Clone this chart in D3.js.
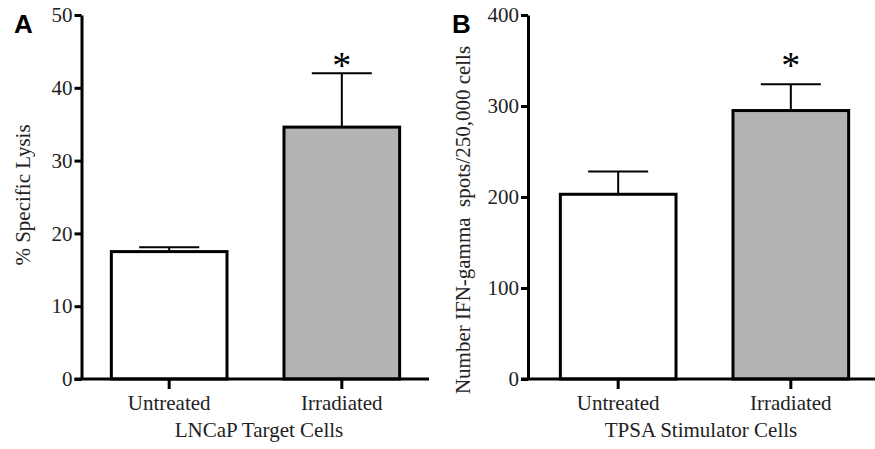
<!DOCTYPE html>
<html>
<head>
<meta charset="utf-8">
<script src="https://cdn.jsdelivr.net/npm/d3@7"></script>
<style>
  body { margin: 0; background: #fff; }
  text { font-family: "Liberation Serif", "Times New Roman", serif; fill: #222; }
</style>
</head>
<body>
<svg id="fig" width="875" height="449"></svg>
<script>
// values
var categories = ["Untreated", "Irradiated"];

var lysisMean = [17.5, 34.6],
    lysisErr = [0.6, 7.4],
    lysisTicks = [0, 10, 20, 30, 40, 50];

var spotsMean = [203, 295],
    spotsErr = [25, 29],
    spotsTicks = [0, 100, 200, 300, 400];

var stars = ["", "*"];

var svg = d3.select("#fig");

function drawPanel(p) {
    var g = svg.append("g");

    var y = d3.scaleLinear().domain([0, p.max]).range([379, 15]);
    var x = d3.scaleBand()
        .domain(categories)
        .range([p.left, p.left + 347])
        .paddingInner(0.33)
        .paddingOuter(0.17);

    var rows = categories.map(function (c, i) {
        return { name: c, mean: p.mean[i], err: p.err[i], star: stars[i], fill: i === 0 ? "#fff" : "#b3b3b3" };
    });

    // bars
    g.selectAll(".bar")
        .data(rows)
        .enter().append("rect")
        .attr("class", "bar")
        .attr("x", function (d) { return x(d.name); })
        .attr("y", function (d) { return y(d.mean); })
        .attr("width", x.bandwidth())
        .attr("height", function (d) { return y(0) - y(d.mean); })
        .attr("fill", function (d) { return d.fill; })
        .attr("stroke", "#000")
        .attr("stroke-width", 3);

    // error bars, upper side only
    var eb = g.selectAll(".err")
        .data(rows)
        .enter().append("g")
        .attr("class", "err")
        .attr("stroke", "#000")
        .attr("stroke-width", 2);

    eb.append("line")
        .attr("x1", function (d) { return x(d.name) + x.bandwidth() / 2; })
        .attr("x2", function (d) { return x(d.name) + x.bandwidth() / 2; })
        .attr("y1", function (d) { return y(d.mean); })
        .attr("y2", function (d) { return y(d.mean + d.err); });

    eb.append("line")
        .attr("x1", function (d) { return x(d.name) + x.bandwidth() / 2 - 30; })
        .attr("x2", function (d) { return x(d.name) + x.bandwidth() / 2 + 30; })
        .attr("y1", function (d) { return y(d.mean + d.err); })
        .attr("y2", function (d) { return y(d.mean + d.err); });

    g.selectAll(".star")
        .data(rows)
        .enter().append("text")
        .attr("class", "star")
        .attr("x", function (d) { return x(d.name) + x.bandwidth() / 2; })
        .attr("y", 78)
        .attr("text-anchor", "middle")
        .style("font-size", "38px")
        .style("fill", "#000")
        .text(function (d) { return d.star; });

    // y axis
    var ya = g.append("g")
        .attr("transform", "translate(" + p.axisX + ",0)")
        .call(d3.axisLeft(y).tickValues(p.ticks).tickSize(7).tickSizeOuter(0).tickPadding(2))
        .attr("font-family", null)
        .attr("font-size", null);
    ya.select(".domain").attr("stroke", "#000").attr("stroke-width", 3);
    ya.selectAll(".tick line").attr("stroke", "#000").attr("stroke-width", 3);
    ya.selectAll(".tick text")
        .style("font-size", "21px")
        .attr("fill", null);

    // x axis
    g.append("line")
        .attr("x1", p.axisX - 7)
        .attr("x2", p.left + 347)
        .attr("y1", y(0))
        .attr("y2", y(0))
        .attr("stroke", "#000")
        .attr("stroke-width", 3);

    var xa = g.append("g")
        .attr("transform", "translate(0," + y(0) + ")")
        .call(d3.axisBottom(x).tickSize(10).tickSizeOuter(0).tickPadding(6))
        .attr("font-family", null)
        .attr("font-size", null);
    xa.select(".domain").remove();
    xa.selectAll(".tick line").attr("stroke", "#000").attr("stroke-width", 3);
    xa.selectAll(".tick text")
        .style("font-size", "21px")
        .attr("fill", null);

    // titles
    g.append("text")
        .attr("x", p.xTitleX)
        .attr("y", 437)
        .attr("text-anchor", "middle")
        .style("font-size", "21px")
        .text(p.xTitle);

    g.append("text")
        .attr("transform", "translate(" + p.yTitleX + "," + p.yTitleY + ") rotate(-90)")
        .attr("text-anchor", "middle")
        .style("font-size", "21px")
        .style("white-space", "pre")
        .text(p.yTitle);

    g.append("text")
        .attr("x", p.letterX)
        .attr("y", 33)
        .style("font-family", "'Liberation Sans', Arial, sans-serif")
        .style("font-weight", "bold")
        .style("font-size", "26px")
        .style("fill", "#000")
        .text(p.letter);
}

drawPanel({
    letter: "A", letterX: 14,
    max: 50, mean: lysisMean, err: lysisErr, ticks: lysisTicks,
    axisX: 81.5, left: 82,
    xTitle: "LNCaP Target Cells", xTitleX: 259,
    yTitle: "% Specific Lysis", yTitleX: 30, yTitleY: 195
});

drawPanel({
    letter: "B", letterX: 452,
    max: 400, mean: spotsMean, err: spotsErr, ticks: spotsTicks,
    axisX: 528, left: 531,
    xTitle: "TPSA Stimulator Cells", xTitleX: 701,
    yTitle: "Number IFN-gamma  spots/250,000 cells", yTitleX: 470, yTitleY: 220
});
</script>
</body>
</html>
